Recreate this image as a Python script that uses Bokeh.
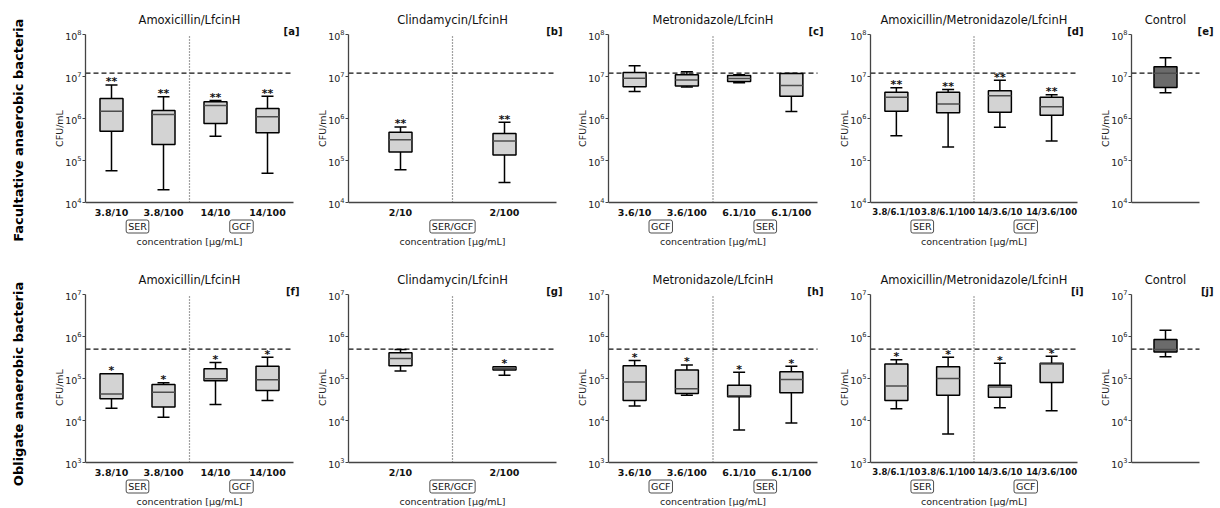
import math
from bokeh.plotting import figure
from bokeh.layouts import column, row
from bokeh.models import Range1d, FixedTicker, Label
from bokeh.core.properties import value
from bokeh.embed import file_html
from bokeh.resources import INLINE

FONT = "DejaVu Sans"

# ---------------- data: facultative anaerobic bacteria (row 1) ----------------
FAC_CONTROL_LINE = 1.2e7

A_LABELS = ["3.8/10", "3.8/100", "14/10", "14/100"]
A_LOW = [5.7e4, 2.0e4, 3.8e5, 5.0e4]
A_Q1 = [5.0e5, 2.4e5, 7.6e5, 4.6e5]
A_MED = [1.48e6, 1.25e6, 2.05e6, 1.1e6]
A_Q3 = [3.0e6, 1.56e6, 2.5e6, 1.74e6]
A_HIGH = [6.3e6, 3.3e6, 2.7e6, 3.4e6]
A_SIG = ["**", "**", "**", "**"]

B_LABELS = ["2/10", "2/100"]
B_LOW = [6.0e4, 3.0e4]
B_Q1 = [1.6e5, 1.35e5]
B_MED = [3.1e5, 2.9e5]
B_Q3 = [4.7e5, 4.4e5]
B_HIGH = [6.3e5, 8.1e5]
B_SIG = ["**", "**"]

C_LABELS = ["3.6/10", "3.6/100", "6.1/10", "6.1/100"]
C_LOW = [4.4e6, 5.6e6, 7.1e6, 1.47e6]
C_Q1 = [5.7e6, 5.9e6, 7.6e6, 3.4e6]
C_MED = [9.1e6, 8.2e6, 9.0e6, 6.1e6]
C_Q3 = [1.24e7, 1.1e7, 1.05e7, 1.18e7]
C_HIGH = [1.8e7, 1.29e7, 1.1e7, 1.18e7]
C_SIG = ["", "", "", ""]

D_LABELS = ["3.8/6.1/10", "3.8/6.1/100", "14/3.6/10", "14/3.6/100"]
D_LOW = [3.9e5, 2.1e5, 6.2e5, 2.9e5]
D_Q1 = [1.49e6, 1.38e6, 1.41e6, 1.2e6]
D_MED = [3.2e6, 2.2e6, 3.5e6, 1.9e6]
D_Q3 = [4.2e6, 4.2e6, 4.6e6, 3.2e6]
D_HIGH = [5.4e6, 4.9e6, 8.1e6, 3.7e6]
D_SIG = ["**", "**", "**", "**"]

E_LOW = [4.1e6]
E_Q1 = [5.5e6]
E_MED = [1.2e7]
E_Q3 = [1.7e7]
E_HIGH = [2.8e7]

# ---------------- data: obligate anaerobic bacteria (row 2) ----------------
OBL_CONTROL_LINE = 5.0e5

F_LABELS = ["3.8/10", "3.8/100", "14/10", "14/100"]
F_LOW = [1.95e4, 1.2e4, 2.4e4, 3.0e4]
F_Q1 = [3.3e4, 2.1e4, 8.8e4, 5.2e4]
F_MED = [4.3e4, 4.7e4, 9.8e4, 9.3e4]
F_Q3 = [1.29e5, 7.2e4, 1.7e5, 1.96e5]
F_HIGH = [1.29e5, 7.9e4, 2.4e5, 3.2e5]
F_SIG = ["*", "*", "*", "*"]

G_LABELS = ["2/10", "2/100"]
G_LOW = [1.5e5, 1.2e5]
G_Q1 = [2.0e5, 1.6e5]
G_MED = [3.0e5, 1.75e5]
G_Q3 = [4.1e5, 1.9e5]
G_HIGH = [4.9e5, 1.9e5]
G_SIG = ["", "*"]

H_LABELS = ["3.6/10", "3.6/100", "6.1/10", "6.1/100"]
H_LOW = [2.2e4, 4.0e4, 5.9e3, 8.7e3]
H_Q1 = [3.0e4, 4.4e4, 3.7e4, 4.6e4]
H_MED = [8.3e4, 5.7e4, 3.9e4, 9.5e4]
H_Q3 = [2.0e5, 1.6e5, 6.9e4, 1.44e5]
H_HIGH = [2.7e5, 2.1e5, 1.4e5, 1.96e5]
H_SIG = ["*", "*", "*", "*"]

I_LABELS = ["3.8/6.1/10", "3.8/6.1/100", "14/3.6/10", "14/3.6/100"]
I_LOW = [1.9e4, 4.8e3, 2.0e4, 1.7e4]
I_Q1 = [3.0e4, 4.0e4, 3.6e4, 8.0e4]
I_MED = [6.6e4, 1.0e5, 6.3e4, 2.2e5]
I_Q3 = [2.2e5, 1.9e5, 6.9e4, 2.3e5]
I_HIGH = [2.8e5, 3.2e5, 2.3e5, 3.4e5]
I_SIG = ["*", "*", "*", "*"]

J_LOW = [3.3e5]
J_Q1 = [4.3e5]
J_MED = [4.9e5]
J_Q3 = [8.5e5]
J_HIGH = [1.4e6]

GROUPS_SER_GCF = ["SER", "GCF"]
GROUPS_GCF_SER = ["GCF", "SER"]
GROUPS_BOTH = ["SER/GCF"]
X_TITLE = "concentration [\u03bcg/mL]"
Y_TITLE = "CFU/mL"
ROW_TITLES = ["Facultative anaerobic bacteria", "Obligate anaerobic bacteria"]

# ---------------- geometry ----------------
DECADE_PX = 42.0
EXT_TOP = 26      # px of frame above the top decade (title / tag area)
EXT_BOT = 46      # px of frame below the bottom decade (tick labels, groups, x title)
EXT_BOT2 = 44
SIDE_W = 36


def make_side(text, height, center_from_top):
    p = figure(frame_width=SIDE_W, frame_height=height, x_range=Range1d(0, 1),
               y_range=Range1d(0, height), x_axis_location=None, y_axis_location=None,
               output_backend="svg", toolbar_location=None,
               min_border_left=0, min_border_right=0, min_border_top=0, min_border_bottom=0)
    p.outline_line_color = None
    p.xgrid.visible = False
    p.ygrid.visible = False
    p.add_layout(Label(x=0.5, y=height - center_from_top, text=text, angle=math.pi / 2,
                       text_align="center", text_baseline="middle", text_font=FONT,
                       text_font_style="bold", text_font_size="13px", text_color="black"))
    return p


def make_panel(title, tag, labels, low, q1, med, q3, high, sig, groups, yr, hline,
               frame_w, left, right, ext_bot, bottom, fill="#d3d3d3", tick_size="9.5px",
               tag_over=6):
    n = len(low)
    ppu = frame_w / n
    x_hi = n + (tag_over + 1) / ppu
    decades = math.log10(yr[1]) - math.log10(yr[0])
    y_lo = yr[0] / 10 ** (ext_bot / DECADE_PX)
    y_hi = yr[1] * 10 ** (EXT_TOP / DECADE_PX)
    fh = int(round(decades * DECADE_PX + EXT_TOP + ext_bot))
    p = figure(frame_width=frame_w + tag_over + 1, frame_height=fh,
               x_range=Range1d(0, x_hi), y_range=Range1d(y_lo, y_hi),
               y_axis_type="log", output_backend="svg", toolbar_location=None,
               min_border_left=left, min_border_right=right,
               min_border_top=8, min_border_bottom=bottom)
    p.outline_line_color = None
    p.xgrid.visible = False
    p.ygrid.visible = False
    p.background_fill_color = "white"
    p.border_fill_color = "white"

    # y axis
    k0 = int(round(math.log10(yr[0])))
    k1 = int(round(math.log10(yr[1])))
    yax = p.yaxis[0]
    yax.ticker = FixedTicker(ticks=[10.0 ** k for k in range(k0, k1 + 1)])
    yax.bounds = (yr[0], yr[1])
    yax.axis_label = Y_TITLE
    yax.axis_label_text_font = FONT
    yax.axis_label_text_font_size = "9.5px"
    yax.axis_label_text_font_style = "normal"
    yax.axis_label_text_color = "#222222"
    yax.axis_label_standoff = -3
    yax.major_label_text_font = FONT
    yax.major_label_text_font_size = "9.5px"
    yax.major_label_text_color = "#222222"
    yax.major_label_standoff = 1
    yax.major_tick_out = 3
    yax.major_tick_in = 0
    yax.minor_tick_line_color = None
    yax.axis_line_color = "#444444"
    yax.axis_line_width = 1.3
    yax.major_tick_line_color = "#444444"

    # x axis pinned to the bottom decade
    xs = [0.5 + i for i in range(n)]
    xax = p.xaxis[0]
    xax.fixed_location = yr[0]
    xax.bounds = (0, n)
    if labels:
        xax.ticker = FixedTicker(ticks=xs)
        xax.major_label_overrides = {x: lab for x, lab in zip(xs, labels)}
    else:
        xax.ticker = FixedTicker(ticks=[])
    xax.major_label_text_font = FONT
    xax.major_label_text_font_size = tick_size
    xax.major_label_text_font_style = "bold"
    xax.major_label_text_color = "#111111"
    xax.major_label_standoff = 4
    xax.major_tick_out = 0
    xax.major_tick_in = 0
    xax.major_tick_line_color = None
    xax.minor_tick_line_color = None
    xax.axis_line_color = "#444444"
    xax.axis_line_width = 1.3

    # reference lines
    p.segment([0], [hline], [n], [hline], line_color="#111111", line_width=1.3,
              line_dash="5 3")
    if n > 1:
        p.segment([n / 2], [yr[0]], [n / 2], [yr[1]], line_color="#444444",
                  line_width=1.2, line_dash="1 2")

    # boxes
    bw = 23.0 / ppu
    cw = 12.0 / ppu
    x_left = [x - bw / 2 for x in xs]
    x_right = [x + bw / 2 for x in xs]
    c_left = [x - cw / 2 for x in xs]
    c_right = [x + cw / 2 for x in xs]
    p.segment(xs, q3, xs, high, line_color="black", line_width=1.5)
    p.segment(xs, q1, xs, low, line_color="black", line_width=1.5)
    p.segment(c_left, high, c_right, high, line_color="black", line_width=1.5)
    p.segment(c_left, low, c_right, low, line_color="black", line_width=1.5)
    p.vbar(x=xs, width=bw, bottom=q1, top=q3, fill_color=fill,
           line_color="black", line_width=1.5)
    p.segment(x_left, med, x_right, med, line_color="#4d4d4d", line_width=1.5)

    if sig:
        p.text(x=xs, y=high, text=sig, text_align="center", text_baseline="alphabetic",
               y_offset=-3, text_font=value(FONT), text_font_style="bold",
               text_font_size="11px", text_color="#111111")

    # title and panel tag
    p.add_layout(Label(x=n / 2, y=yr[1], text=title, text_align="center",
                       text_baseline="middle", y_offset=15, text_font=FONT,
                       text_font_size="11.5px", text_color="#111111"))
    p.add_layout(Label(x=n, y=yr[1], text=tag, text_align="right", text_baseline="middle",
                       x_offset=tag_over, y_offset=3, text_font=FONT, text_font_style="bold",
                       text_font_size="10px", text_color="#111111"))

    # group boxes and x title
    if groups:
        k = len(groups)
        for gi, g in enumerate(groups):
            gx = n * (gi + 0.5) / k
            p.add_layout(Label(x=gx, y=yr[0], text=g, text_align="center",
                               text_baseline="middle", y_offset=-24,
                               text_font=FONT, text_font_size="9.5px",
                               text_color="#111111",
                               border_line_color="#222222", border_line_width=0.8,
                               background_fill_color="white", padding=(2, 1),
                               border_radius=2))
        p.add_layout(Label(x=n / 2, y=yr[0], text=X_TITLE, text_align="center",
                           text_baseline="middle", y_offset=-39, text_font=FONT,
                           text_font_size="9.5px", text_color="#222222"))
    return p


R1 = (1e4, 1e8)
R2 = (1e3, 1e7)

s1 = make_side(ROW_TITLES[0], 260, 121.7)
pa = make_panel("Amoxicillin/LfcinH", "[a]", A_LABELS, A_LOW, A_Q1, A_MED, A_Q3, A_HIGH, A_SIG,
                GROUPS_SER_GCF, R1, FAC_CONTROL_LINE, 208, 85 - SIDE_W, 3, EXT_BOT, 12)
pb = make_panel("Clindamycin/LfcinH", "[b]", B_LABELS, B_LOW, B_Q1, B_MED, B_Q3, B_HIGH, B_SIG,
                GROUPS_BOTH, R1, FAC_CONTROL_LINE, 208, 45, 0, EXT_BOT, 12)
pc = make_panel("Metronidazole/LfcinH", "[c]", C_LABELS, C_LOW, C_Q1, C_MED, C_Q3, C_HIGH, C_SIG,
                GROUPS_GCF_SER, R1, FAC_CONTROL_LINE, 209, 45, 1, EXT_BOT, 12)
pd_ = make_panel("Amoxicillin/Metronidazole/LfcinH", "[d]", D_LABELS, D_LOW, D_Q1, D_MED, D_Q3,
                 D_HIGH, D_SIG, GROUPS_SER_GCF, R1, FAC_CONTROL_LINE, 207, 45, 2, EXT_BOT, 12,
                 tick_size="8.5px")
pe = make_panel("Control", "[e]", None, E_LOW, E_Q1, E_MED, E_Q3, E_HIGH, None,
                None, R1, FAC_CONTROL_LINE, 68, 45, 6, EXT_BOT, 12, fill="#6b6b6b", tag_over=14)

s2 = make_side(ROW_TITLES[1], 248, 115.5)
pf = make_panel("Amoxicillin/LfcinH", "[f]", F_LABELS, F_LOW, F_Q1, F_MED, F_Q3, F_HIGH, F_SIG,
                GROUPS_SER_GCF, R2, OBL_CONTROL_LINE, 208, 85 - SIDE_W, 3, EXT_BOT2, 2)
pg = make_panel("Clindamycin/LfcinH", "[g]", G_LABELS, G_LOW, G_Q1, G_MED, G_Q3, G_HIGH, G_SIG,
                GROUPS_BOTH, R2, OBL_CONTROL_LINE, 208, 45, 0, EXT_BOT2, 2)
ph = make_panel("Metronidazole/LfcinH", "[h]", H_LABELS, H_LOW, H_Q1, H_MED, H_Q3, H_HIGH, H_SIG,
                GROUPS_GCF_SER, R2, OBL_CONTROL_LINE, 209, 45, 1, EXT_BOT2, 2)
pi = make_panel("Amoxicillin/Metronidazole/LfcinH", "[i]", I_LABELS, I_LOW, I_Q1, I_MED, I_Q3,
                I_HIGH, I_SIG, GROUPS_SER_GCF, R2, OBL_CONTROL_LINE, 207, 45, 2, EXT_BOT2, 2,
                tick_size="8.5px")
pj = make_panel("Control", "[j]", None, J_LOW, J_Q1, J_MED, J_Q3, J_HIGH, None,
                None, R2, OBL_CONTROL_LINE, 68, 45, 6, EXT_BOT2, 2, fill="#6b6b6b", tag_over=14)

layout = column(row(s1, pa, pb, pc, pd_, pe, spacing=0),
                row(s2, pf, pg, ph, pi, pj, spacing=0), spacing=0)

open("out.html", "w").write(file_html(layout, INLINE))
